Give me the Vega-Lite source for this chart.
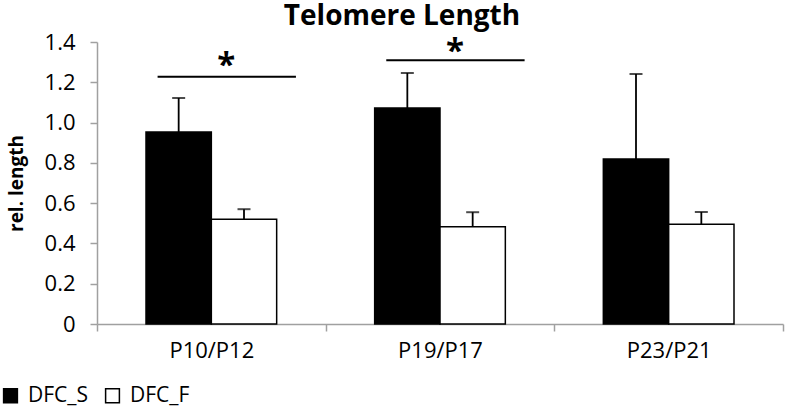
{
  "$schema": "https://vega.github.io/schema/vega-lite/v6.json",
  "autosize": {"type": "none"},
  "width": 686,
  "height": 282,
  "padding": {"left": 97, "top": 42, "right": 4, "bottom": 88},
  "background": "white",
  "title": {"text": "Telomere Length", "font": "Open Sans", "fontSize": 28, "fontWeight": "bold", "color": "black", "anchor": "middle", "frame": "group", "dx": -38, "offset": -22, "baseline": "alphabetic"},
  "config": {
    "view": {"stroke": null},
    "font": "Open Sans"
  },
  "datasets": {
    "bars": [
      {"cat": "P10/P12", "series": "DFC_S", "value": 0.953, "hi": 1.122},
      {"cat": "P10/P12", "series": "DFC_F", "value": 0.52, "hi": 0.57},
      {"cat": "P19/P17", "series": "DFC_S", "value": 1.072, "hi": 1.246},
      {"cat": "P19/P17", "series": "DFC_F", "value": 0.483, "hi": 0.555},
      {"cat": "P23/P21", "series": "DFC_S", "value": 0.819, "hi": 1.241},
      {"cat": "P23/P21", "series": "DFC_F", "value": 0.495, "hi": 0.556}
    ],
    "sig": [
      {"cat": "P10/P12", "line": 1.228, "star": 1.28, "label": "*"},
      {"cat": "P19/P17", "line": 1.31, "star": 1.35, "label": "*"}
    ]
  },
  "layer": [
    {
      "data": {"name": "bars"},
      "mark": {"type": "bar", "stroke": "black", "strokeWidth": 1.5},
      "encoding": {
        "x": {"field": "cat", "type": "nominal", "sort": null,
              "scale": {"paddingInner": 0, "paddingOuter": 0},
              "axis": {"title": null, "labelAngle": 0, "labelFont": "Open Sans", "labelFontSize": 22, "labelColor": "black",
                       "domainColor": "#a0a0a0", "domainWidth": 1.5, "tickColor": "#a0a0a0", "tickWidth": 1.5, "tickSize": 7,
                       "tickBand": "extent", "labelPadding": 9}},
        "xOffset": {"field": "series", "type": "nominal", "sort": ["DFC_S", "DFC_F"],
                    "scale": {"paddingInner": 0, "paddingOuter": 0.75}},
        "y": {"field": "value", "type": "quantitative",
              "scale": {"domain": [0, 1.4], "nice": false},
              "axis": {"title": "rel. length", "titleFont": "Open Sans", "titleFontSize": 19, "titleFontWeight": "bold", "titleColor": "black",
                       "titleX": -81, "titleY": 141, "titleAngle": -90, "titleBaseline": "middle", "titleAlign": "center",
                       "values": [0, 0.2, 0.4, 0.6, 0.8, 1.0, 1.2, 1.4],
                       "labelExpr": "datum.value == 0 ? '0' : format(datum.value, '.1f')",
                       "labelFont": "Open Sans", "labelFontSize": 22, "labelColor": "black", "labelPadding": 15,
                       "grid": false, "domainColor": "#a0a0a0", "domainWidth": 1.5, "tickColor": "#a0a0a0", "tickWidth": 1.5, "tickSize": 7}},
        "fill": {"field": "series", "type": "nominal",
                 "scale": {"domain": ["DFC_S", "DFC_F"], "range": ["#000000", "#ffffff"]},
                 "legend": {"title": null, "orient": "none", "direction": "horizontal", "legendX": -97, "legendY": 343,
                            "symbolType": "square", "symbolSize": 190, "symbolStrokeColor": "black", "symbolStrokeWidth": 1.5,
                            "labelFont": "Open Sans", "labelFontSize": 21, "labelColor": "black", "labelOffset": 7, "columnPadding": 13, "padding": 0}}
      }
    },
    {
      "data": {"name": "bars"},
      "mark": {"type": "rule", "color": "black", "strokeWidth": 1.8},
      "encoding": {
        "x": {"field": "cat", "type": "nominal", "sort": null},
        "xOffset": {"field": "series", "type": "nominal", "sort": ["DFC_S", "DFC_F"]},
        "y": {"field": "value", "type": "quantitative"},
        "y2": {"field": "hi"}
      }
    },
    {
      "data": {"name": "bars"},
      "mark": {"type": "tick", "color": "black", "orient": "horizontal", "size": 13, "thickness": 2},
      "encoding": {
        "x": {"field": "cat", "type": "nominal", "sort": null},
        "xOffset": {"field": "series", "type": "nominal", "sort": ["DFC_S", "DFC_F"]},
        "y": {"field": "hi", "type": "quantitative"}
      }
    },
    {
      "data": {"name": "sig"},
      "mark": {"type": "rule", "color": "black", "strokeWidth": 2},
      "encoding": {
        "x": {"field": "cat", "type": "nominal", "sort": null, "bandPosition": 0.265},
        "x2": {"field": "cat", "bandPosition": 0.87},
        "y": {"field": "line", "type": "quantitative"}
      }
    },
    {
      "data": {"name": "sig"},
      "mark": {"type": "text", "color": "black", "font": "Open Sans", "fontSize": 33, "fontWeight": "bold", "baseline": "middle", "align": "center"},
      "encoding": {
        "x": {"field": "cat", "type": "nominal", "sort": null, "bandPosition": 0.565},
        "y": {"field": "star", "type": "quantitative"},
        "text": {"field": "label"}
      }
    }
  ]
}
